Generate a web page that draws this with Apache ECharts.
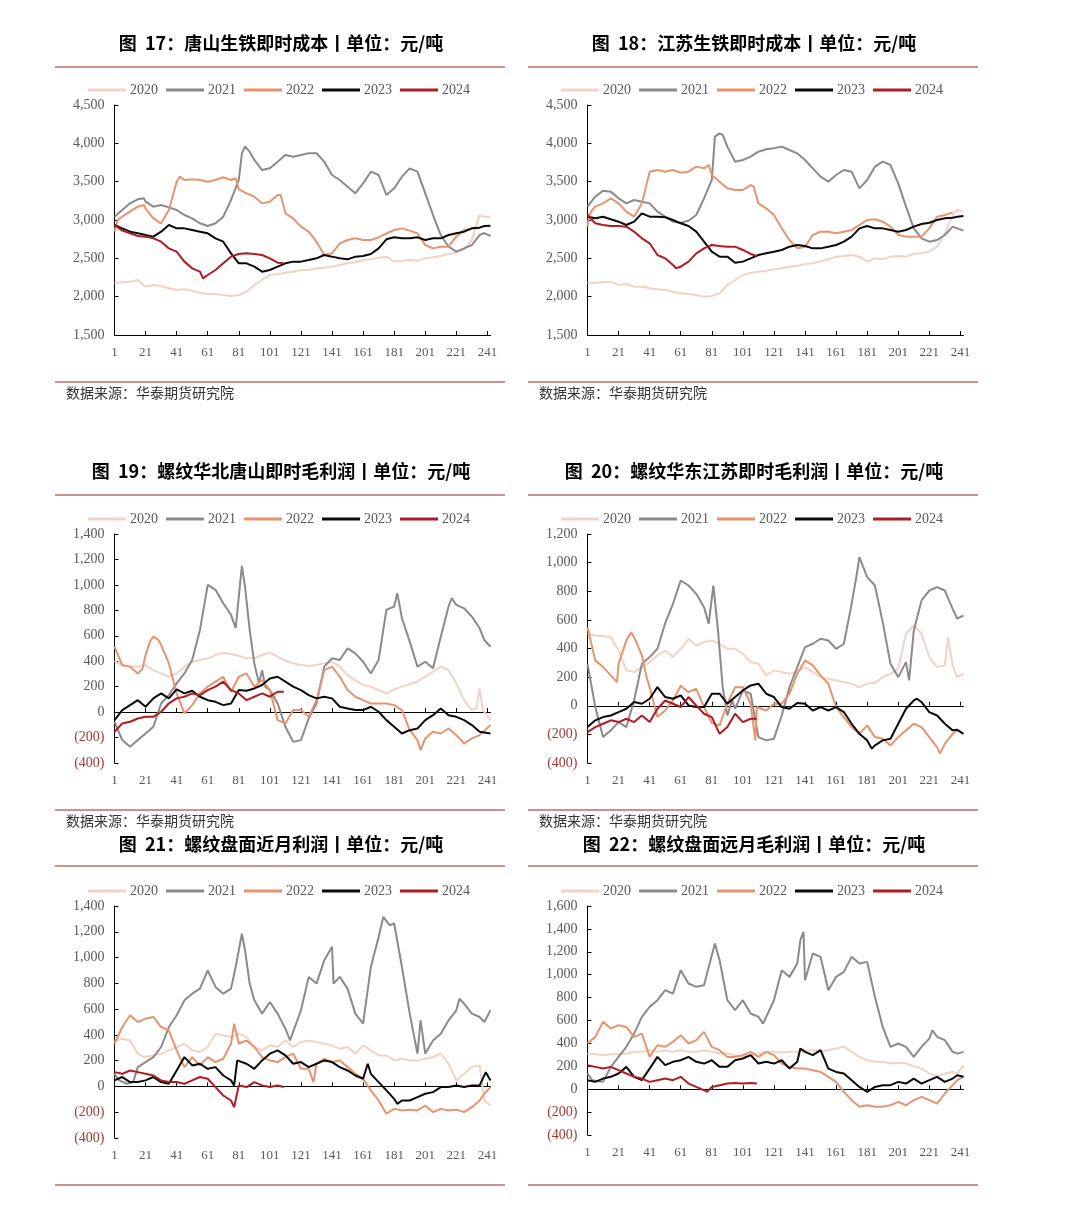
<!DOCTYPE html>
<html><head><meta charset="utf-8">
<script src="https://cdn.jsdelivr.net/npm/echarts@6/dist/echarts.min.js"></script>
<style>html,body{margin:0;padding:0;background:#fff}#c{width:1080px;height:1220px}</style>
</head><body><div id="c"></div>
<script>
// ---------- data: [day, value] ----------
const years = ['2020','2021','2022','2023','2024'];
const dayLabels = Array.from({length: 243}, (_, i) => String(i + 1));

// 图17 唐山生铁即时成本
const tsCost2020 = [[1,2183],[11,2196],[16,2217],[21,2130],[26,2152],[31,2139],[36,2109],[41,2087],[46,2096],[51,2078],[56,2052],[61,2035],[66,2035],[71,2022],[76,2009],[81,2022],[86,2065],[91,2152],[96,2217],[101,2283],[106,2296],[111,2313],[116,2326],[121,2348],[126,2348],[131,2370],[136,2378],[141,2391],[146,2413],[151,2435],[156,2448],[161,2478],[166,2487],[171,2509],[176,2522],[181,2457],[186,2470],[191,2478],[196,2470],[201,2500],[206,2513],[211,2530],[216,2557],[221,2574],[226,2617],[231,2739],[236,3065],[239,3043],[243,3043]];
const tsCost2021 = [[1,3043],[6,3130],[11,3217],[16,3270],[20,3283],[21,3239],[26,3174],[31,3196],[36,3165],[41,3130],[46,3065],[51,3022],[56,2957],[61,2922],[66,2957],[71,3043],[76,3261],[81,3522],[83,3870],[85,3957],[88,3891],[91,3783],[96,3652],[101,3674],[106,3761],[111,3848],[116,3826],[121,3848],[126,3870],[131,3870],[136,3761],[141,3587],[146,3522],[151,3435],[156,3348],[161,3478],[166,3630],[171,3587],[176,3326],[181,3413],[186,3565],[191,3674],[196,3630],[201,3348],[206,3065],[211,2804],[216,2652],[221,2587],[226,2630],[231,2674],[236,2804],[239,2830],[243,2791]];
const tsCost2022 = [[1,2850],[3,3000],[6,3043],[11,3109],[16,3174],[20,3196],[21,3152],[26,3022],[31,2957],[36,3130],[41,3500],[43,3565],[46,3522],[51,3530],[56,3522],[61,3500],[66,3522],[71,3557],[76,3522],[79,3545],[81,3400],[86,3348],[91,3304],[96,3217],[101,3239],[106,3326],[108,3326],[111,3087],[116,3022],[121,2913],[126,2848],[131,2717],[136,2543],[141,2565],[146,2696],[151,2739],[156,2761],[161,2739],[166,2739],[171,2774],[176,2826],[181,2870],[186,2891],[191,2861],[196,2826],[201,2674],[206,2630],[211,2652],[216,2652],[221,2783],[226,2870],[231,2891],[236,2900]];
const tsCost2023 = [[1,2935],[6,2891],[11,2848],[16,2826],[21,2804],[26,2783],[31,2848],[36,2935],[41,2891],[46,2891],[51,2870],[56,2848],[61,2826],[66,2761],[71,2717],[76,2565],[81,2435],[86,2435],[91,2391],[96,2326],[101,2348],[106,2391],[111,2435],[116,2457],[121,2457],[126,2478],[131,2500],[136,2543],[141,2522],[146,2500],[151,2487],[156,2522],[161,2530],[166,2557],[171,2630],[176,2748],[181,2774],[186,2761],[191,2761],[196,2774],[201,2739],[206,2761],[211,2761],[216,2804],[221,2826],[226,2848],[231,2891],[236,2900],[239,2922],[243,2926]];
const tsCost2024 = [[1,2935],[6,2861],[11,2826],[16,2791],[21,2783],[26,2761],[31,2717],[36,2630],[41,2587],[46,2457],[51,2370],[56,2326],[58,2239],[61,2283],[66,2348],[71,2435],[76,2522],[81,2557],[86,2565],[91,2557],[96,2543],[101,2500],[106,2443],[110,2435]];

// 图18 江苏生铁即时成本
const jsCost2020 = [[1,2174],[16,2196],[21,2152],[26,2165],[31,2130],[36,2130],[41,2109],[46,2096],[51,2087],[56,2065],[61,2043],[66,2035],[71,2022],[76,2000],[81,2009],[86,2043],[91,2152],[96,2217],[101,2283],[106,2313],[111,2326],[116,2339],[121,2357],[126,2370],[131,2391],[136,2400],[141,2426],[146,2435],[151,2461],[156,2487],[161,2522],[166,2530],[171,2543],[176,2522],[181,2457],[186,2500],[191,2487],[196,2522],[201,2530],[206,2522],[211,2557],[216,2574],[221,2587],[226,2652],[231,2826],[236,3065],[239,3130],[243,3109]];
const jsCost2021 = [[1,3174],[6,3304],[11,3383],[16,3370],[21,3283],[26,3217],[31,3261],[36,3239],[41,3217],[46,3109],[51,3043],[56,2978],[61,2965],[66,2991],[71,3065],[76,3283],[81,3522],[83,4087],[86,4130],[88,4109],[91,3957],[96,3761],[101,3783],[106,3826],[111,3891],[116,3922],[121,3935],[126,3957],[131,3913],[136,3870],[141,3783],[146,3674],[151,3565],[156,3500],[161,3587],[166,3652],[171,3630],[176,3413],[181,3522],[186,3696],[191,3761],[196,3717],[201,3478],[206,3174],[211,2891],[216,2761],[221,2717],[226,2739],[231,2804],[236,2913],[239,2891],[243,2861]];
const jsCost2022 = [[1,2913],[2,3050],[4,3130],[6,3174],[11,3217],[16,3283],[21,3217],[26,3109],[31,3043],[36,3217],[41,3630],[46,3652],[51,3630],[56,3652],[61,3617],[66,3630],[71,3696],[76,3674],[79,3717],[81,3587],[86,3500],[91,3413],[96,3391],[101,3391],[106,3457],[108,3435],[111,3217],[116,3152],[121,3065],[126,2891],[131,2739],[136,2630],[141,2652],[146,2804],[151,2848],[156,2848],[161,2826],[166,2848],[171,2870],[176,2935],[181,3000],[186,3009],[191,2978],[196,2913],[201,2804],[206,2783],[211,2783],[216,2783],[221,2891],[226,3043],[231,3065],[236,3100]];
const jsCost2023 = [[1,3043],[6,3022],[11,3043],[16,3009],[21,2978],[26,2935],[31,2978],[36,3087],[41,3043],[46,3043],[51,3035],[56,3000],[61,2957],[66,2922],[71,2848],[76,2717],[81,2587],[86,2522],[91,2522],[96,2443],[101,2457],[106,2500],[111,2543],[116,2565],[121,2587],[126,2609],[131,2652],[136,2674],[141,2661],[146,2630],[151,2630],[156,2652],[161,2674],[166,2717],[171,2783],[176,2891],[181,2922],[186,2891],[191,2891],[196,2870],[201,2848],[206,2870],[211,2913],[216,2948],[221,2965],[226,3000],[231,3022],[236,3030],[239,3043],[243,3052]];
const jsCost2024 = [[1,3065],[6,2957],[11,2935],[16,2922],[21,2922],[26,2913],[31,2848],[36,2761],[41,2696],[46,2543],[51,2500],[56,2413],[58,2370],[61,2391],[66,2457],[71,2565],[76,2630],[81,2674],[86,2661],[91,2652],[96,2652],[101,2609],[106,2557],[110,2530]];

// 图19 螺纹华北唐山即时毛利润
const tsProfit2020 = [[1,400],[6,365],[11,360],[16,357],[21,370],[26,330],[31,304],[36,278],[41,304],[46,357],[51,396],[56,410],[61,423],[66,449],[71,467],[76,457],[81,441],[86,423],[91,423],[96,449],[101,467],[106,436],[111,404],[116,383],[121,370],[126,362],[131,370],[136,383],[141,396],[146,357],[151,291],[156,252],[161,213],[166,200],[171,173],[176,147],[181,178],[186,200],[191,220],[196,239],[201,278],[206,318],[211,357],[216,330],[221,226],[226,94],[231,16],[234,30],[236,186],[238,20],[243,-63]];
const tsProfit2021 = [[1,-76],[6,-220],[11,-273],[16,-220],[21,-168],[26,-115],[31,68],[36,134],[41,226],[46,304],[51,410],[56,646],[61,1000],[66,961],[71,856],[76,764],[79,659],[81,908],[83,1150],[85,987],[88,646],[91,383],[94,226],[96,330],[98,200],[101,173],[106,68],[111,-115],[116,-234],[121,-220],[126,-50],[131,68],[136,357],[141,423],[146,410],[151,501],[156,462],[161,396],[166,304],[171,410],[176,803],[181,830],[183,935],[186,738],[191,554],[196,357],[201,396],[206,344],[211,593],[216,830],[218,895],[221,843],[226,816],[231,751],[236,659],[239,567],[243,514]];
const tsProfit2022 = [[1,514],[6,370],[11,357],[16,304],[19,340],[21,450],[24,560],[26,593],[29,570],[31,528],[36,383],[41,147],[46,-10],[51,55],[56,147],[61,200],[66,239],[71,278],[76,160],[81,278],[86,304],[91,200],[96,252],[101,173],[106,-63],[111,-89],[116,16],[121,16],[126,-37],[131,94],[136,330],[141,357],[146,278],[151,173],[156,121],[161,94],[166,68],[171,68],[176,68],[181,55],[186,16],[191,-142],[196,-220],[198,-299],[201,-207],[206,-155],[211,-168],[216,-129],[221,-181],[226,-247],[231,-207],[236,-181],[243,-102]];
const tsProfit2023 = [[1,-63],[6,16],[11,55],[16,94],[21,42],[26,108],[31,147],[36,108],[41,178],[46,147],[51,168],[56,121],[61,94],[66,81],[71,55],[76,68],[81,173],[86,168],[91,186],[96,213],[101,265],[106,278],[111,239],[116,200],[121,173],[126,134],[131,108],[136,121],[141,108],[146,42],[151,29],[156,16],[161,16],[166,42],[171,3],[176,-63],[181,-115],[186,-168],[191,-142],[196,-129],[201,-63],[206,-24],[211,29],[216,-24],[221,-37],[226,-63],[231,-102],[236,-155],[239,-160],[243,-168]];
const tsProfit2024 = [[1,-155],[6,-89],[11,-76],[16,-50],[21,-37],[26,-37],[31,3],[36,68],[41,108],[46,121],[51,147],[56,134],[61,173],[66,200],[71,239],[76,173],[81,147],[86,94],[91,121],[96,147],[101,121],[106,160],[110,160]];

// 图20 螺纹华东江苏即时毛利润
const jsProfit2020 = [[1,503],[6,491],[11,485],[16,480],[21,386],[26,247],[31,235],[36,270],[41,305],[46,352],[51,386],[56,340],[61,398],[66,468],[71,421],[76,445],[81,456],[86,433],[91,398],[96,398],[101,363],[106,305],[111,293],[116,212],[121,247],[126,235],[131,223],[136,240],[141,270],[146,235],[151,200],[156,189],[161,177],[166,165],[171,154],[176,130],[181,154],[186,160],[191,200],[196,223],[201,258],[206,503],[211,561],[216,503],[221,340],[226,270],[231,282],[233,480],[236,282],[239,200],[243,223]];
const jsProfit2021 = [[1,293],[6,-9],[11,-219],[16,-172],[21,-114],[26,-149],[31,37],[36,293],[41,340],[46,398],[51,577],[56,712],[61,875],[66,840],[71,782],[76,689],[79,573],[82,840],[85,526],[88,130],[91,-68],[94,37],[96,-20],[101,107],[106,84],[111,-219],[116,-242],[121,-230],[126,-68],[131,130],[136,270],[141,410],[146,433],[151,468],[156,456],[161,398],[166,433],[171,712],[174,899],[176,1038],[181,899],[186,840],[191,584],[196,293],[201,200],[206,305],[208,177],[211,526],[216,736],[221,805],[226,829],[231,805],[236,677],[239,608],[243,631]];
const jsProfit2022 = [[1,549],[6,317],[11,270],[16,212],[20,165],[21,293],[26,456],[29,514],[31,480],[36,352],[39,200],[41,130],[46,-79],[51,-33],[56,37],[61,140],[66,95],[71,119],[76,-9],[81,-121],[86,-137],[91,14],[96,130],[101,130],[106,14],[109,-242],[110,-9],[116,-33],[121,14],[126,14],[131,84],[136,223],[141,317],[146,282],[151,212],[156,154],[161,-9],[166,-79],[171,-149],[176,-196],[181,-137],[186,-219],[191,-230],[196,-277],[201,-219],[206,-172],[211,-126],[216,-149],[221,-219],[226,-289],[228,-335],[231,-265],[236,-196],[239,-172]];
const jsProfit2023 = [[1,-149],[6,-102],[11,-79],[16,-68],[21,-44],[26,-21],[31,26],[36,14],[41,49],[46,130],[51,61],[56,49],[61,72],[66,2],[71,-9],[76,-9],[81,84],[86,84],[91,14],[96,61],[101,107],[106,142],[111,154],[116,84],[121,61],[126,-9],[131,-21],[136,19],[141,14],[146,-33],[151,-10],[156,-33],[161,-10],[166,-44],[171,-126],[176,-196],[181,-242],[184,-300],[186,-277],[191,-242],[196,-230],[201,-126],[206,-21],[211,37],[213,49],[216,26],[221,-44],[226,-68],[231,-126],[236,-172],[239,-168],[243,-196]];
const jsProfit2024 = [[1,-184],[6,-149],[11,-126],[16,-102],[21,-114],[26,-91],[31,-114],[36,-68],[41,-114],[46,-21],[51,37],[56,14],[61,-9],[66,61],[71,2],[76,-56],[81,-79],[86,-196],[91,-149],[96,-56],[101,-114],[106,-91],[110,-91]];

// 图21 螺纹盘面近月利润
const nearProfit2020 = [[1,357],[6,370],[11,357],[16,254],[20,228],[26,241],[31,254],[36,280],[41,306],[46,331],[51,280],[56,267],[61,306],[66,409],[71,396],[76,383],[81,409],[86,383],[91,306],[96,280],[101,319],[106,306],[111,357],[116,306],[121,344],[126,357],[131,344],[136,331],[141,319],[146,293],[151,306],[156,254],[161,319],[166,280],[171,241],[176,241],[181,202],[186,215],[191,202],[196,202],[201,215],[206,228],[211,254],[216,176],[221,47],[226,98],[231,150],[236,163],[239,-109],[243,-148]];
const nearProfit2021 = [[1,98],[4,47],[9,21],[13,34],[16,150],[21,189],[26,228],[31,306],[36,461],[41,552],[46,668],[51,720],[56,759],[61,901],[66,772],[71,720],[76,759],[79,927],[83,1186],[85,1057],[88,798],[91,668],[96,565],[101,655],[106,565],[111,448],[114,357],[121,591],[126,850],[131,798],[136,979],[141,1083],[142,798],[146,850],[151,759],[156,565],[161,487],[166,927],[171,1160],[174,1316],[178,1251],[181,1264],[186,927],[191,565],[196,254],[198,513],[201,254],[206,357],[211,409],[216,513],[221,591],[223,681],[226,642],[231,565],[236,539],[239,500],[243,591]];
const nearProfit2022 = [[1,331],[6,461],[11,552],[16,500],[21,526],[26,539],[31,461],[36,435],[41,280],[46,150],[51,228],[56,163],[61,228],[66,189],[71,215],[76,331],[78,487],[81,331],[86,357],[91,306],[96,228],[101,202],[106,189],[111,228],[116,254],[121,137],[126,137],[129,34],[131,176],[136,215],[141,189],[146,202],[151,150],[156,98],[161,60],[166,-31],[171,-109],[176,-212],[181,-174],[186,-186],[191,-180],[196,-186],[201,-148],[206,-199],[211,-174],[216,-186],[221,-180],[226,-199],[231,-161],[236,-109],[239,-57],[243,-5]];
const nearProfit2023 = [[1,47],[6,73],[11,34],[16,34],[21,47],[26,73],[31,34],[36,21],[41,124],[46,228],[51,163],[56,176],[61,137],[66,150],[71,85],[76,47],[78,8],[80,202],[86,176],[91,137],[96,202],[101,254],[106,280],[111,241],[116,176],[121,189],[126,150],[131,176],[136,202],[141,189],[146,150],[151,124],[156,85],[161,60],[164,176],[166,98],[171,34],[176,-31],[181,-96],[183,-135],[186,-109],[191,-109],[196,-83],[201,-57],[206,-44],[211,-5],[216,-5],[221,8],[226,-5],[231,8],[236,8],[240,111],[243,47]];
const nearProfit2024 = [[1,111],[6,98],[11,124],[16,111],[21,98],[26,85],[31,47],[36,34],[41,34],[46,21],[51,47],[56,73],[61,60],[66,-5],[71,-70],[76,-109],[78,-161],[81,8],[86,-5],[91,34],[96,8],[101,-5],[106,8],[110,-5]];

// 图22 螺纹盘面远月毛利润
const farProfit2020 = [[1,311],[6,305],[11,297],[16,305],[21,305],[26,311],[31,326],[36,326],[41,341],[46,326],[51,341],[56,326],[61,341],[66,326],[71,326],[76,341],[81,326],[86,311],[91,311],[96,297],[101,288],[106,297],[111,311],[116,326],[121,326],[126,320],[131,326],[136,326],[141,335],[146,341],[151,326],[156,341],[161,355],[166,370],[171,326],[176,282],[181,253],[186,239],[191,239],[196,224],[201,230],[206,224],[211,201],[216,180],[221,137],[226,114],[231,137],[236,151],[239,137],[243,210]];
const farProfit2021 = [[1,137],[4,79],[11,64],[16,195],[21,282],[26,370],[31,486],[36,632],[41,719],[46,777],[51,865],[56,835],[61,1039],[66,923],[71,894],[76,908],[79,1068],[83,1272],[86,1127],[91,777],[96,690],[101,777],[106,661],[111,632],[114,573],[121,777],[126,1039],[131,981],[136,1097],[138,1301],[140,1374],[141,952],[146,1185],[151,1156],[156,865],[161,981],[166,1025],[171,1156],[176,1097],[181,1112],[186,806],[191,544],[196,370],[201,399],[206,370],[211,282],[216,370],[221,442],[223,515],[226,457],[231,428],[236,326],[239,311],[243,326]];
const farProfit2022 = [[1,399],[6,457],[11,588],[16,530],[21,559],[26,544],[31,457],[36,486],[41,282],[46,384],[51,370],[56,413],[61,472],[66,399],[71,428],[76,501],[81,370],[86,341],[91,282],[96,282],[101,297],[106,326],[111,282],[116,326],[121,297],[126,224],[131,195],[136,180],[141,180],[146,166],[151,151],[156,108],[161,64],[166,-23],[171,-96],[176,-154],[181,-140],[186,-154],[191,-154],[196,-140],[201,-111],[206,-140],[211,-96],[216,-67],[221,-96],[226,-125],[231,-38],[236,35],[239,79],[243,108]];
const farProfit2023 = [[1,79],[6,64],[11,93],[16,108],[21,137],[26,195],[31,108],[36,79],[41,180],[46,282],[51,210],[56,239],[61,253],[66,282],[71,239],[76,224],[81,253],[86,195],[91,195],[96,253],[101,268],[106,297],[111,224],[116,239],[121,224],[126,253],[131,180],[136,239],[138,355],[141,326],[146,297],[151,341],[156,180],[161,151],[166,137],[171,79],[176,20],[181,-23],[186,20],[191,35],[196,35],[201,64],[206,49],[211,93],[216,49],[221,79],[226,108],[231,64],[236,93],[239,122],[243,108]];
const farProfit2024 = [[1,210],[6,195],[11,180],[16,195],[21,166],[26,137],[31,108],[36,93],[41,64],[46,79],[51,93],[56,79],[61,108],[66,49],[71,20],[76,-9],[78,-23],[81,20],[86,35],[91,49],[96,55],[101,49],[106,55],[110,49]];

const titles = [
  '图  17：唐山生铁即时成本丨单位：元/吨',
  '图  18：江苏生铁即时成本丨单位：元/吨',
  '图  19：螺纹华北唐山即时毛利润丨单位：元/吨',
  '图  20：螺纹华东江苏即时毛利润丨单位：元/吨',
  '图  21：螺纹盘面近月利润丨单位：元/吨',
  '图  22：螺纹盘面远月毛利润丨单位：元/吨'
];
const sourceText = '数据来源：华泰期货研究院';

// ---------- layout / style ----------
const colors = ['#f2d2c6', '#8a8a8a', '#e6946f', '#0a0a0a', '#b01c22'];
const serif = '"Liberation Serif", "DejaVu Serif", serif';
const cjk = '"Noto Sans CJK SC", sans-serif';
const panelDefs = [
  {data:[tsCost2020,tsCost2021,tsCost2022,tsCost2023,tsCost2024], px:55,  top:105, h:230, min:1500, max:4500, step:500, titleY:43, lineT:67, legY:89, lineB:382, srcY:393},
  {data:[jsCost2020,jsCost2021,jsCost2022,jsCost2023,jsCost2024], px:528, top:105, h:230, min:1500, max:4500, step:500, titleY:43, lineT:67, legY:89, lineB:382, srcY:393},
  {data:[tsProfit2020,tsProfit2021,tsProfit2022,tsProfit2023,tsProfit2024], px:55, top:534, h:229, min:-400, max:1400, step:200, titleY:471, lineT:495, legY:518, lineB:810, srcY:821},
  {data:[jsProfit2020,jsProfit2021,jsProfit2022,jsProfit2023,jsProfit2024], px:528, top:534, h:229, min:-400, max:1200, step:200, titleY:471, lineT:495, legY:518, lineB:810, srcY:821},
  {data:[nearProfit2020,nearProfit2021,nearProfit2022,nearProfit2023,nearProfit2024], px:55, top:906, h:232, min:-400, max:1400, step:200, titleY:844, lineT:866, legY:890, lineB:1185, srcY:null},
  {data:[farProfit2020,farProfit2021,farProfit2022,farProfit2023,farProfit2024], px:528, top:906, h:229, min:-400, max:1600, step:200, titleY:844, lineT:866, legY:890, lineB:1185, srcY:null}
];

function fmtY(v) {
  const s = Math.abs(v).toString().replace(/\B(?=(\d{3})+(?!\d))/g, ',');
  return v < 0 ? '{neg|(' + s + ')}' : s;
}

const grid = [], xAxis = [], yAxis = [], series = [], legend = [], graphic = [];
panelDefs.forEach((p, i) => {
  const gLeft = p.px + 59.5;
  grid.push({left: gLeft, top: p.top, width: 376, height: p.h, containLabel: false});
  const lineAxisIdx = xAxis.length;
  // axis line + ticks (sits on zero when range crosses it)
  xAxis.push({
    type: 'category', gridIndex: i, data: dayLabels, boundaryGap: false, position: 'bottom',
    axisLine: {onZero: true, lineStyle: {color: '#000', width: 1}},
    axisTick: {show: true, inside: true, length: 4, interval: 19, lineStyle: {color: '#000'}},
    axisLabel: {show: false}, splitLine: {show: false}
  });
  // labels at the bottom
  xAxis.push({
    type: 'category', gridIndex: i, data: dayLabels, boundaryGap: false, position: 'bottom',
    axisLine: {show: false, onZero: false}, axisTick: {show: false},
    axisLabel: {show: true, interval: 19, margin: 11, color: '#595959', fontFamily: serif, fontSize: 13},
    splitLine: {show: false}
  });
  yAxis.push({
    type: 'value', gridIndex: i, min: p.min, max: p.max, interval: p.step,
    axisLine: {show: true, lineStyle: {color: '#000', width: 1}},
    axisTick: {show: true, inside: true, length: 4, lineStyle: {color: '#000'}},
    splitLine: {show: false},
    axisLabel: {margin: 10, color: '#595959', fontFamily: serif, fontSize: 14, formatter: fmtY,
      rich: {neg: {color: '#a23b35', fontFamily: serif, fontSize: 14}}}
  });
  p.data.forEach((arr, k) => {
    series.push({
      type: 'line', name: years[k], xAxisIndex: lineAxisIdx, yAxisIndex: i,
      data: arr.map(d => [d[0] - 1, d[1]]),
      showSymbol: false, symbol: 'none', smooth: false,
      lineStyle: {width: 2, color: colors[k]}, itemStyle: {color: colors[k]},
      emphasis: {disabled: true}, z: 2 + k
    });
  });
  legend.push({
    left: p.px + 33, top: p.legY - 6, padding: 0, icon: 'rect', itemWidth: 38, itemHeight: 3, itemGap: 8,
    data: years, selectedMode: false,
    textStyle: {color: '#595959', fontFamily: serif, fontSize: 14, padding: [0, 0, 0, -1]}
  });
  // title
  graphic.push({type: 'text', x: p.px + 226, y: p.titleY, style: {
    text: titles[i], fill: '#000', font: 'bold 18px ' + cjk, align: 'center', verticalAlign: 'middle',
    textAlign: 'center', textVerticalAlign: 'middle'}});
  // red separator lines
  [p.lineT, p.lineB].forEach(yy => graphic.push({type: 'line', shape: {x1: p.px, y1: yy, x2: p.px + 450, y2: yy},
    style: {stroke: '#b86e66', lineWidth: 1.3}}));
  if (p.srcY) {
    graphic.push({type: 'text', x: p.px + 11, y: p.srcY, style: {
      text: sourceText, fill: '#333', font: '14px ' + cjk, align: 'left', verticalAlign: 'middle',
      textAlign: 'left', textVerticalAlign: 'middle'}});
  }
});

const chart = echarts.init(document.getElementById('c'), null, {renderer: 'canvas', width: 1080, height: 1220});
chart.setOption({
  backgroundColor: '#fff', animation: false,
  grid, xAxis, yAxis, series, legend, graphic
});
</script></body></html>
